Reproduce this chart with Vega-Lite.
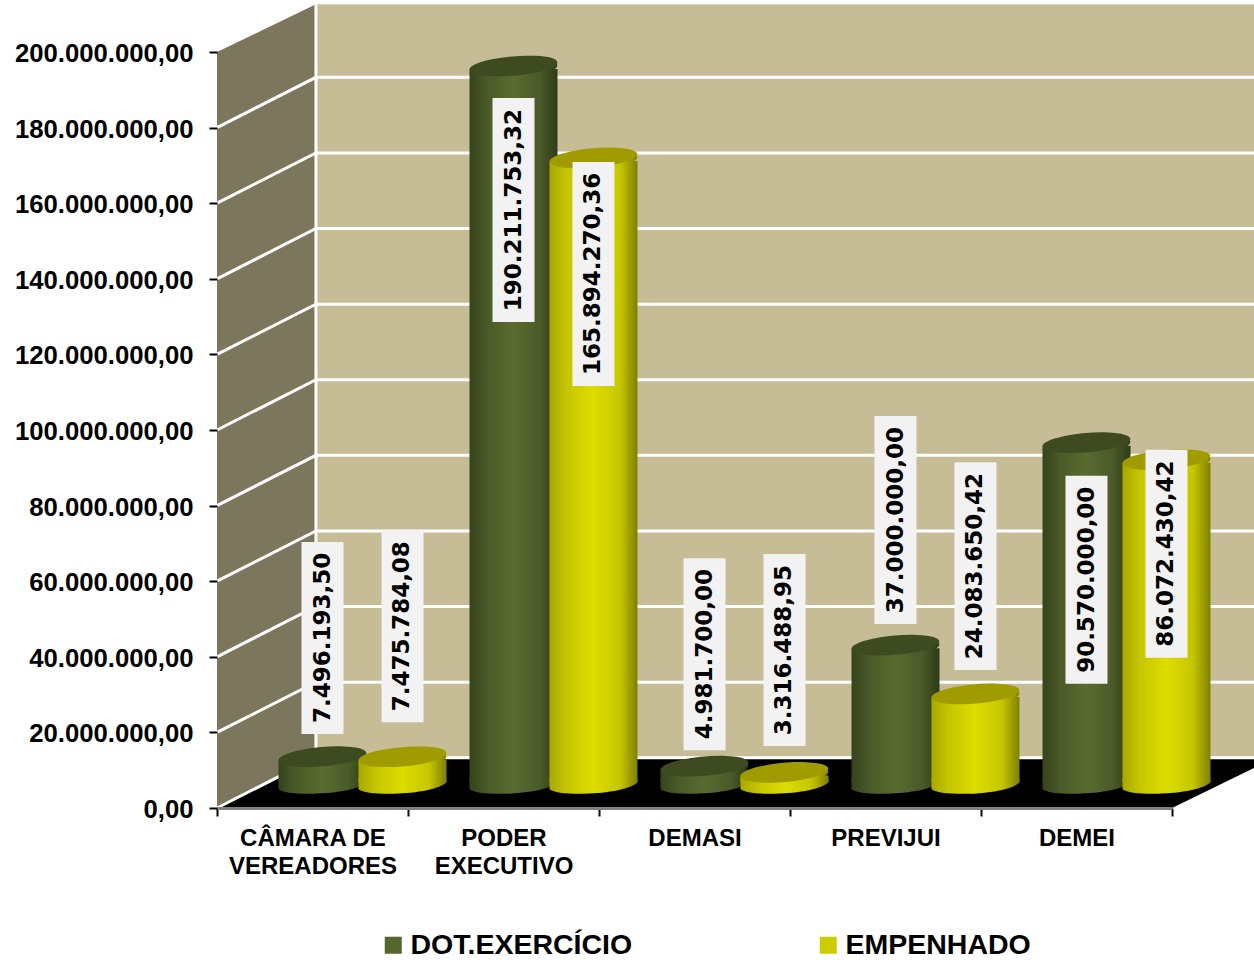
{
"$schema":"https://vega.github.io/schema/vega-lite/v6.json",
"width":955,"height":756,
"autosize":{"type":"none"},
"padding":{"left":217,"top":52,"right":82,"bottom":152},
"background":"white",
"config":{"locale":{"number":{"decimal":",","thousands":".","grouping":[3],"currency":["R$ ",""]}},"view":{"stroke":null}},
"datasets":{
"valores":[
{"categoria":"CÂMARA DE VEREADORES","serie":"DOT.EXERCÍCIO","valor":7496193.50,"rotuloEm":38900000},
{"categoria":"CÂMARA DE VEREADORES","serie":"EMPENHADO","valor":7475784.08,"rotuloEm":42000000},
{"categoria":"PODER EXECUTIVO","serie":"DOT.EXERCÍCIO","valor":190211753.32,"rotuloEm":152100000},
{"categoria":"PODER EXECUTIVO","serie":"EMPENHADO","valor":165894270.36,"rotuloEm":135200000},
{"categoria":"DEMASI","serie":"DOT.EXERCÍCIO","valor":4981700.00,"rotuloEm":34600000},
{"categoria":"DEMASI","serie":"EMPENHADO","valor":3316488.95,"rotuloEm":35700000},
{"categoria":"PREVIJUI","serie":"DOT.EXERCÍCIO","valor":37000000.00,"rotuloEm":70100000},
{"categoria":"PREVIJUI","serie":"EMPENHADO","valor":24083650.42,"rotuloEm":57900000},
{"categoria":"DEMEI","serie":"DOT.EXERCÍCIO","valor":90570000.00,"rotuloEm":54300000},
{"categoria":"DEMEI","serie":"EMPENHADO","valor":86072430.42,"rotuloEm":61200000}
]},
"resolve":{"scale":{"x":"independent","y":"independent","color":"independent"},"axis":{"x":"independent","y":"independent"}},
"layer":[
{
"encoding":{
"x":{"field":"prof","type":"quantitative","axis":null,"scale":{"domain":[0,5],"range":[0,955],"nice":false,"zero":false}}
},
"layer":[
{"data":{"values":[{"prof":0,"topo":200000000,"base":0},{"prof":0.518,"topo":212600000,"base":13300000}]},
 "mark":{"type":"area","fill":"#7c775c","clip":false},
 "encoding":{"y":{"field":"topo","type":"quantitative","axis":null,"scale":{"domain":[0,200000000],"range":[756,0],"nice":false}},"y2":{"field":"base"}}},
{"data":{"values":[{"prof":0.518,"topo":212600000,"base":13300000},{"prof":5.43,"topo":212600000,"base":13300000}]},
 "mark":{"type":"area","fill":"#c6bd97"},
 "encoding":{"y":{"field":"topo","type":"quantitative"},"y2":{"field":"base"}}},
{"data":{"values":[{"prof":0,"topo":0,"base":0},{"prof":0.518,"topo":13300000,"base":0},{"prof":5,"topo":13300000,"base":0},{"prof":5.43,"topo":13300000,"base":10600000}]},
 "mark":{"type":"area","fill":"#000000"},
 "encoding":{"y":{"field":"topo","type":"quantitative"},"y2":{"field":"base"}}},
{"data":{"values":[
{"grade":0,"prof":0,"nivel":0},{"grade":0,"prof":0.518,"nivel":13300000},{"grade":0,"prof":5.43,"nivel":13300000},
{"grade":20,"prof":0,"nivel":20000000},{"grade":20,"prof":0.518,"nivel":33300000},{"grade":20,"prof":5.43,"nivel":33300000},
{"grade":40,"prof":0,"nivel":40000000},{"grade":40,"prof":0.518,"nivel":53300000},{"grade":40,"prof":5.43,"nivel":53300000},
{"grade":60,"prof":0,"nivel":60000000},{"grade":60,"prof":0.518,"nivel":73300000},{"grade":60,"prof":5.43,"nivel":73300000},
{"grade":80,"prof":0,"nivel":80000000},{"grade":80,"prof":0.518,"nivel":93300000},{"grade":80,"prof":5.43,"nivel":93300000},
{"grade":100,"prof":0,"nivel":100000000},{"grade":100,"prof":0.518,"nivel":113300000},{"grade":100,"prof":5.43,"nivel":113300000},
{"grade":120,"prof":0,"nivel":120000000},{"grade":120,"prof":0.518,"nivel":133300000},{"grade":120,"prof":5.43,"nivel":133300000},
{"grade":140,"prof":0,"nivel":140000000},{"grade":140,"prof":0.518,"nivel":153300000},{"grade":140,"prof":5.43,"nivel":153300000},
{"grade":160,"prof":0,"nivel":160000000},{"grade":160,"prof":0.518,"nivel":173300000},{"grade":160,"prof":5.43,"nivel":173300000},
{"grade":180,"prof":0,"nivel":180000000},{"grade":180,"prof":0.518,"nivel":193300000},{"grade":180,"prof":5.43,"nivel":193300000},
{"grade":999,"prof":0.518,"nivel":13300000},{"grade":999,"prof":0.518,"nivel":212600000}
]},
 "mark":{"type":"line","stroke":"#ffffff","strokeWidth":3},
 "encoding":{"y":{"field":"nivel","type":"quantitative"},"detail":{"field":"grade","type":"nominal"},"order":{"field":"prof","type":"quantitative"}}}
]
},
{
"data":{"name":"valores"},
"encoding":{
"x":{"field":"categoria","type":"nominal","sort":null,"axis":null,"scale":{"domain":["CÂMARA DE VEREADORES","PODER EXECUTIVO","DEMASI","PREVIJUI","DEMEI"],"range":[50,1005],"paddingInner":0,"paddingOuter":0}},
"xOffset":{"field":"serie","type":"nominal","scale":{"domain":["DOT.EXERCÍCIO","EMPENHADO"],"paddingInner":0,"paddingOuter":0.194}},
"y":{"field":"valor","type":"quantitative","axis":null,"scale":{"domain":[0,200000000],"range":[733,-23],"nice":false}}
},
"layer":[
{"transform":[{"filter":"datum.serie==='DOT.EXERCÍCIO'"}],
 "layer":[
 {"mark":{"type":"point","filled":true,"opacity":1,"size":7744,"shape":"M-1,-0.15 L-1,0.09 C-0.85,0.27 0.7,0.24 1,-0.06 L1,-0.15 Z","fill":{"gradient":"linear","x1":0,"x2":1,"y1":0,"y2":0,"stops":[{"offset":0,"color":"#36431c"},{"offset":0.2,"color":"#4a5a28"},{"offset":0.5,"color":"#5a6b30"},{"offset":0.8,"color":"#4a5a28"},{"offset":1,"color":"#2f3a18"}]}},
  "encoding":{"y":{"datum":0}}},
 {"mark":{"type":"bar","width":88,"yOffset":3,"fill":{"gradient":"linear","x1":0,"x2":1,"y1":0,"y2":0,"stops":[{"offset":0,"color":"#36431c"},{"offset":0.2,"color":"#4a5a28"},{"offset":0.5,"color":"#5a6b30"},{"offset":0.8,"color":"#4a5a28"},{"offset":1,"color":"#2f3a18"}]}},
  "encoding":{"y2":{"datum":800000}}},
 {"mark":{"type":"point","filled":true,"opacity":1,"size":7744,"yOffset":3,"shape":"M-0.996,0.087 A1,0.215,-5,1,1,0.996,-0.087 A1,0.215,-5,1,1,-0.996,0.087 Z","fill":{"gradient":"linear","x1":0,"x2":1,"y1":0,"y2":0,"stops":[{"offset":0,"color":"#36431c"},{"offset":0.2,"color":"#4a5a28"},{"offset":0.5,"color":"#5a6b30"},{"offset":0.8,"color":"#4a5a28"},{"offset":1,"color":"#2f3a18"}]}}},
 {"mark":{"type":"point","filled":true,"opacity":1,"size":7744,"fill":"#3e4a20","shape":"M-0.996,0.087 A1,0.215,-5,1,1,0.996,-0.087 A1,0.215,-5,1,1,-0.996,0.087 Z"}}
 ]},
{"transform":[{"filter":"datum.serie==='EMPENHADO'"}],
 "layer":[
 {"mark":{"type":"point","filled":true,"opacity":1,"size":7744,"shape":"M-1,-0.15 L-1,0.09 C-0.85,0.27 0.7,0.24 1,-0.06 L1,-0.15 Z","fill":{"gradient":"linear","x1":0,"x2":1,"y1":0,"y2":0,"stops":[{"offset":0,"color":"#a8a800"},{"offset":0.2,"color":"#c6c600"},{"offset":0.5,"color":"#dddd00"},{"offset":0.8,"color":"#c6c600"},{"offset":1,"color":"#7f7f00"}]}},
  "encoding":{"y":{"datum":0}}},
 {"mark":{"type":"bar","width":88,"yOffset":3,"fill":{"gradient":"linear","x1":0,"x2":1,"y1":0,"y2":0,"stops":[{"offset":0,"color":"#a8a800"},{"offset":0.2,"color":"#c6c600"},{"offset":0.5,"color":"#dddd00"},{"offset":0.8,"color":"#c6c600"},{"offset":1,"color":"#7f7f00"}]}},
  "encoding":{"y2":{"datum":800000}}},
 {"mark":{"type":"point","filled":true,"opacity":1,"size":7744,"yOffset":3,"shape":"M-0.996,0.087 A1,0.215,-5,1,1,0.996,-0.087 A1,0.215,-5,1,1,-0.996,0.087 Z","fill":{"gradient":"linear","x1":0,"x2":1,"y1":0,"y2":0,"stops":[{"offset":0,"color":"#a8a800"},{"offset":0.2,"color":"#c6c600"},{"offset":0.5,"color":"#dddd00"},{"offset":0.8,"color":"#c6c600"},{"offset":1,"color":"#7f7f00"}]}}},
 {"mark":{"type":"point","filled":true,"opacity":1,"size":7744,"fill":"#a09c00","shape":"M-0.996,0.087 A1,0.215,-5,1,1,0.996,-0.087 A1,0.215,-5,1,1,-0.996,0.087 Z"}}
 ]},
{"transform":[{"calculate":"datum.rotuloEm+2116000*length(format(datum.valor,',.2f'))","as":"caixaTopo"},{"calculate":"datum.rotuloEm-2116000*length(format(datum.valor,',.2f'))","as":"caixaBase"}],
 "layer":[
 {"mark":{"type":"bar","width":42,"fill":"#f2f2f2"},"encoding":{"y":{"field":"caixaTopo","type":"quantitative"},"y2":{"field":"caixaBase"}}},
 {"mark":{"type":"text","angle":270,"align":"center","baseline":"middle","font":"DejaVu Sans","fontWeight":"bold","fontSize":23,"fill":"#000000"},"encoding":{"y":{"field":"rotuloEm","type":"quantitative"},"text":{"field":"valor","type":"quantitative","format":",.2f"}}}
 ]}
]
},
{
"data":{"name":"valores"},
"mark":{"type":"point","filled":true,"size":0,"opacity":0},
"encoding":{
"x":{"field":"categoria","type":"nominal","sort":null,"title":null,"scale":{"domain":["CÂMARA DE VEREADORES","PODER EXECUTIVO","DEMASI","PREVIJUI","DEMEI"],"paddingInner":0,"paddingOuter":0},
 "axis":{"orient":"bottom","zindex":1,"labelAngle":0,"tickBand":"extent","domainColor":"#808080","domainWidth":3,"tickColor":"#000000","tickWidth":2,"tickSize":8,"labelFont":"Liberation Sans","labelFontWeight":"bold","labelFontSize":24,"labelColor":"#000000","labelPadding":10,"labelLineHeight":28,"labelBaseline":"top",
 "labelExpr":"datum.label==='CÂMARA DE VEREADORES'?['CÂMARA DE','VEREADORES']:datum.label==='PODER EXECUTIVO'?['PODER','EXECUTIVO']:datum.label"}},
"y":{"field":"valor","type":"quantitative","title":null,"scale":{"domain":[0,200000000],"range":[756,0],"nice":false},
 "axis":{"orient":"left","zindex":1,"domain":false,"grid":false,"values":[0,20000000,40000000,60000000,80000000,100000000,120000000,140000000,160000000,180000000,200000000],"format":",.2f","tickColor":"#000000","tickWidth":2,"tickSize":8,"labelFont":"Liberation Sans","labelFontWeight":"bold","labelFontSize":25.7,"labelColor":"#000000","labelPadding":16,"labelOffset":1.5}},
"fill":{"field":"serie","type":"nominal","scale":{"domain":["DOT.EXERCÍCIO","EMPENHADO"],"range":["#55662f","#cccc00"]},
 "legend":{"orient":"none","legendX":162,"legendY":879,"direction":"horizontal","title":null,"symbolType":"square","symbolSize":289,"symbolOpacity":1,"symbolStrokeWidth":0,"labelFont":"Liberation Sans","labelFontWeight":"bold","labelFontSize":28.5,"labelColor":"#000000","columnPadding":181,"labelOffset":3,"labelLimit":400,"padding":0,"gridAlign":"none"}}
}
}
]
}
